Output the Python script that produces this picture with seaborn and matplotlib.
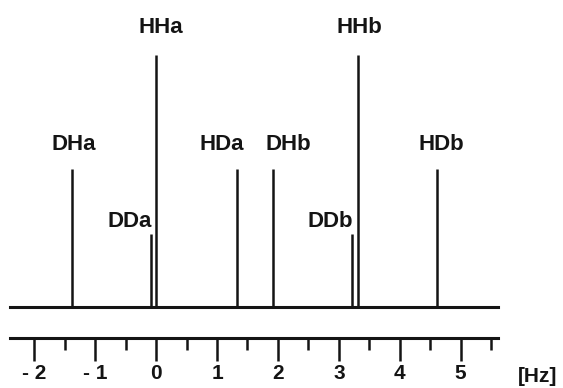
import matplotlib
matplotlib.use("Agg")
import matplotlib.pyplot as plt
import numpy as np
import pandas as pd
import seaborn as sns

# stick spectrum: line positions (Hz) and relative intensities
labels = ["DHa", "DDa", "HHa", "HDa", "DHb", "DDb", "HHb", "HDb"]
positions = [-1.39, -0.09, 0.0, 1.33, 1.92, 3.22, 3.32, 4.61]
intensities = [0.55, 0.29, 1.0, 0.55, 0.55, 0.29, 1.0, 0.55]

major_ticks = [-2, -1, 0, 1, 2, 3, 4, 5]
tick_labels = ["- 2", "- 1", "0", "1", "2", "3", "4", "5"]
minor_ticks = [-1.5, -0.5, 0.5, 1.5, 2.5, 3.5, 4.5, 5.5]
x_range = (-2.40, 5.61)

# label placement (offset in points from the stick top, alignment)
label_style = {
    "DHa": (1.8, 13.7, "center"),
    "DDa": (1.2, 5.0, "right"),
    "HHa": (3.2, 15.8, "center"),
    "HDa": (-11.2, 13.7, "center"),
    "DHb": (11.2, 13.7, "center"),
    "DDb": (0.5, 5.0, "right"),
    "HHb": (1.1, 15.8, "center"),
    "HDb": (2.9, 13.7, "center"),
}

df = pd.DataFrame({"label": labels, "pos": positions, "height": intensities})

sns.set_style("white")
plt.rcParams["font.family"] = ["Liberation Sans", "DejaVu Sans"]
ink = "#141414"

fig = plt.figure(figsize=(5.63, 3.88), dpi=100)
ax = fig.add_axes([0.0178, 0.208, 0.8663, 0.650])
ax.vlines(df["pos"], 0, df["height"], color=ink, lw=1.8, clip_on=False)
ax.set_xlim(*x_range)
ax.set_ylim(0, 1.0)
sns.despine(ax=ax, left=True)
ax.spines["bottom"].set_linewidth(2.2)
ax.spines["bottom"].set_color(ink)
ax.set_xticks([])
ax.set_yticks([])
ax.patch.set_alpha(0)

for _, row in df.iterrows():
    dx, dy, ha = label_style[row["label"]]
    ax.annotate(row["label"], xy=(row["pos"], row["height"]), xytext=(dx, dy),
                textcoords="offset points", ha=ha, va="baseline",
                fontsize=16, fontweight="bold", color=ink, annotation_clip=False)

# separate frequency scale below the spectrum
ax2 = fig.add_axes([0.0178, 0.1281, 0.8663, 0.01])
ax2.set_xlim(*x_range)
sns.despine(ax=ax2, left=True)
ax2.spines["bottom"].set_linewidth(2.2)
ax2.spines["bottom"].set_color(ink)
ax2.set_yticks([])
ax2.set_xticks(major_ticks)
ax2.set_xticklabels(tick_labels, fontsize=15, fontweight="bold", color=ink)
ax2.set_xticks(minor_ticks, minor=True)
ax2.tick_params(axis="x", which="both", bottom=True)
ax2.tick_params(axis="x", which="major", direction="out", length=16.8, width=1.8,
                color=ink, pad=1.5)
ax2.tick_params(axis="x", which="minor", direction="out", length=8.4, width=1.8,
                color=ink)
ax2.patch.set_alpha(0)

fig.text(538 / 563, (388 - 377) / 388, "[Hz]", ha="center", va="center",
         fontsize=15, fontweight="bold", color=ink)

fig.savefig("out.png", dpi=100)
